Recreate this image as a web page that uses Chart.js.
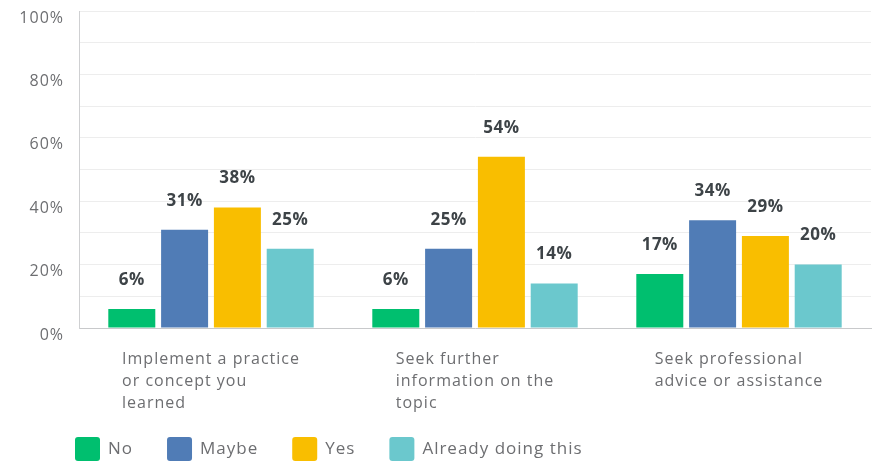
<!DOCTYPE html>
<html>
<head>
<meta charset="utf-8">
<script src="https://cdn.jsdelivr.net/npm/chart.js@4"></script>
<style>
  html, body { margin: 0; padding: 0; background: #fff; }
  #wrap { width: 878px; height: 462px; }
</style>
</head>
<body>
<div id="wrap"><canvas id="surveyChart" width="878" height="462"></canvas></div>
<script>
// categories (each label split into its lines)
const categories = [
    ['Implement a practice', 'or concept you', 'learned'],
    ['Seek further', 'information on the', 'topic'],
    ['Seek professional', 'advice or assistance']
];
const seriesNames = ['No', 'Maybe', 'Yes', 'Already doing this'];
const seriesColors = ['#00bf6f', '#507cb6', '#f9be00', '#6bc8cd'];

// values in percent
const noValues = [6, 6, 17];
const maybeValues = [31, 25, 34];
const yesValues = [38, 54, 29];
const alreadyValues = [25, 14, 20];

const yTicks = [0, 20, 40, 60, 80, 100];

const FONT = '"Open Sans", sans-serif';
const TEXT_GREY = '#6d6e71';

// wider letter spacing, closer to the original font
const spacing = {
    id: 'spacing',
    beforeDraw(chart) { chart.ctx.letterSpacing = '1px'; }
};

// value labels above bars, category labels below, legend at bottom
const annotate = {
    id: 'annotate',
    afterDatasetsDraw(chart) {
        const c = chart.ctx;
        c.save();
        c.letterSpacing = '0.5px';
        c.font = 'bold 17px ' + FONT;
        c.fillStyle = '#3d4347';
        c.textAlign = 'center';
        c.textBaseline = 'middle';
        chart.data.datasets.forEach((ds, i) => {
            chart.getDatasetMeta(i).data.forEach((bar, j) => {
                c.fillText(ds.data[j] + '%', bar.x, bar.y - 29);
            });
        });

        // category labels: block centred under group, lines left-aligned
        c.letterSpacing = '1px';
        const x = chart.scales.x;
        c.font = '16px ' + FONT;
        c.fillStyle = TEXT_GREY;
        c.textAlign = 'left';
        categories.forEach((lines, j) => {
            const w = Math.max(...lines.map(l => c.measureText(l).width));
            const left = x.getPixelForValue(j) - w / 2;
            lines.forEach((l, k) => {
                c.fillText(l, left, x.bottom + 23 + k * 22);
            });
        });

        // legend
        c.font = '17px ' + FONT;
        let lx = 75;
        const ly = 449;
        seriesNames.forEach((name, i) => {
            c.fillStyle = seriesColors[i];
            c.beginPath();
            c.roundRect(lx, ly - 12, 25, 24, 3);
            c.fill();
            c.fillStyle = TEXT_GREY;
            c.fillText(name, lx + 33, ly);
            lx += 33 + c.measureText(name).width + 34;
        });
        c.restore();
    }
};

const ctx = document.getElementById('surveyChart').getContext('2d');
new Chart(ctx, {
    type: 'bar',
    data: {
        labels: categories.map(l => l.join(' ')),
        datasets: [noValues, maybeValues, yesValues, alreadyValues].map((d, i) => ({
            label: seriesNames[i],
            data: d,
            backgroundColor: seriesColors[i],
            categoryPercentage: 0.8,
            barPercentage: 0.89
        }))
    },
    options: {
        responsive: false,
        animation: false,
        layout: { padding: { top: 11, right: 7, bottom: 126, left: 0 } },
        plugins: {
            legend: { display: false },
            tooltip: { enabled: false }
        },
        scales: {
            x: {
                grid: { display: false },
                border: { color: '#c8c9cb', width: 1 },
                ticks: { display: false }
            },
            y: {
                min: 0,
                max: 100,
                afterFit(scale) {
                    scale.width = 79;
                    scale.paddingTop = 0;
                    scale.paddingBottom = 0;
                },
                afterBuildTicks(scale) {
                    const t = [];
                    for (let v = 0; v <= 100; v += 10) t.push({ value: v });
                    scale.ticks = t;
                },
                grid: {
                    color: ctx => ctx.tick && ctx.tick.value === 0 ? 'rgba(0,0,0,0)' : '#ededed',
                    drawTicks: false
                },
                border: { color: '#cfd0d2', width: 1 },
                ticks: {
                    padding: 15,
                    labelOffset: 7,
                    color: TEXT_GREY,
                    font: { family: FONT, size: 16 },
                    callback: v => yTicks.includes(v) ? v + '%' : ''
                }
            }
        }
    },
    plugins: [spacing, annotate]
});
</script>
</body>
</html>
